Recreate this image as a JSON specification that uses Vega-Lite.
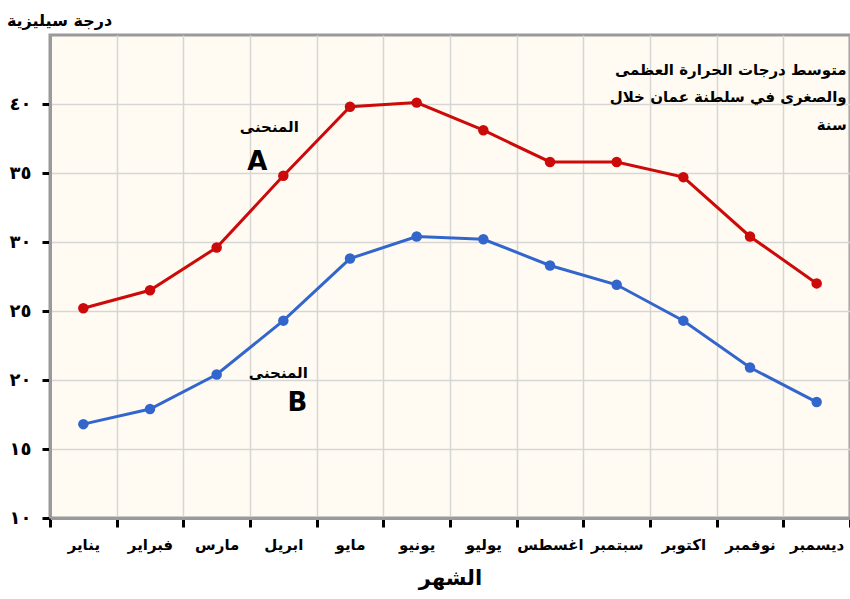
{
  "$schema": "https://vega.github.io/schema/vega-lite/v6.json",
  "width": 800,
  "height": 483,
  "autosize": {"type": "none"},
  "padding": {"left": 50, "top": 35, "right": 0, "bottom": 81},
  "background": "white",
  "config": {
    "font": "DejaVu Sans",
    "view": {"fill": "#FFFBF2", "stroke": "#9a9a9a", "strokeWidth": 3}
  },
  "datasets": {
    "temps": [
      {"month": "يناير", "series": "A", "temp": 25.2},
      {"month": "فبراير", "series": "A", "temp": 26.5},
      {"month": "مارس", "series": "A", "temp": 29.6},
      {"month": "ابريل", "series": "A", "temp": 34.8},
      {"month": "مايو", "series": "A", "temp": 39.8},
      {"month": "يونيو", "series": "A", "temp": 40.1},
      {"month": "يوليو", "series": "A", "temp": 38.1},
      {"month": "اغسطس", "series": "A", "temp": 35.8},
      {"month": "سبتمبر", "series": "A", "temp": 35.8},
      {"month": "اكتوبر", "series": "A", "temp": 34.7},
      {"month": "نوفمبر", "series": "A", "temp": 30.4},
      {"month": "ديسمبر", "series": "A", "temp": 27.0},
      {"month": "يناير", "series": "B", "temp": 16.8},
      {"month": "فبراير", "series": "B", "temp": 17.9},
      {"month": "مارس", "series": "B", "temp": 20.4},
      {"month": "ابريل", "series": "B", "temp": 24.3},
      {"month": "مايو", "series": "B", "temp": 28.8},
      {"month": "يونيو", "series": "B", "temp": 30.4},
      {"month": "يوليو", "series": "B", "temp": 30.2},
      {"month": "اغسطس", "series": "B", "temp": 28.3},
      {"month": "سبتمبر", "series": "B", "temp": 26.9},
      {"month": "اكتوبر", "series": "B", "temp": 24.3},
      {"month": "نوفمبر", "series": "B", "temp": 20.9},
      {"month": "ديسمبر", "series": "B", "temp": 18.4}
    ],
    "wordA": [{"month": "ابريل", "temp": 38.3, "label": "المنحنى"}],
    "wordB": [{"month": "ابريل", "temp": 20.5, "label": "المنحنى"}],
    "letterA": [{"month": "ابريل", "temp": 35.8, "label": "A"}],
    "letterB": [{"month": "ابريل", "temp": 18.3, "label": "B"}],
    "note": [
      {"month": "ديسمبر", "temp": 42.5, "label": "متوسط درجات الحرارة العظمى"},
      {"month": "ديسمبر", "temp": 40.5, "label": "والصغرى في سلطنة عمان خلال"},
      {"month": "ديسمبر", "temp": 38.5, "label": "سنة"}
    ]
  },
  "encoding": {
    "x": {
      "field": "month",
      "type": "nominal",
      "sort": ["يناير", "فبراير", "مارس", "ابريل", "مايو", "يونيو", "يوليو", "اغسطس", "سبتمبر", "اكتوبر", "نوفمبر", "ديسمبر"],
      "scale": {"type": "band", "paddingInner": 0, "paddingOuter": 0},
      "axis": {
        "title": "الشهر",
        "titleFontSize": 21,
        "titleFontWeight": "bold",
        "titleColor": "black",
        "titleY": 60,
        "titleBaseline": "middle",
        "labelAngle": 0,
        "labelFontSize": 15,
        "labelFontWeight": "bold",
        "labelColor": "black",
        "labelPadding": 10,
        "tickBand": "extent",
        "tickColor": "black",
        "tickWidth": 3,
        "tickSize": 9,
        "domainColor": "#9a9a9a",
        "domainWidth": 3,
        "grid": true,
        "gridColor": "#d6d6d6",
        "gridWidth": 1.5
      }
    },
    "y": {
      "field": "temp",
      "type": "quantitative",
      "scale": {"domain": [10, 45], "nice": false, "zero": false},
      "axis": {
        "values": [10, 15, 20, 25, 30, 35, 40],
        "labelExpr": "datum.value == 10 ? '١٠' : datum.value == 15 ? '١٥' : datum.value == 20 ? '٢٠' : datum.value == 25 ? '٢٥' : datum.value == 30 ? '٣٠' : datum.value == 35 ? '٣٥' : '٤٠'",
        "title": "درجة سيليزية",
        "titleAngle": 0,
        "titleX": 9,
        "titleY": -15,
        "titleAlign": "center",
        "titleBaseline": "middle",
        "titleFontSize": 16,
        "titleFontWeight": "bold",
        "titleColor": "black",
        "labelFontSize": 18,
        "labelFontWeight": "bold",
        "labelColor": "black",
        "labelPadding": 11,
        "tickColor": "black",
        "tickWidth": 3,
        "tickSize": 8,
        "domainColor": "#9a9a9a",
        "domainWidth": 3,
        "grid": true,
        "gridColor": "#d6d6d6",
        "gridWidth": 1.5
      }
    }
  },
  "layer": [
    {
      "data": {"name": "temps"},
      "mark": {"type": "line", "strokeWidth": 3},
      "encoding": {
        "color": {"field": "series", "type": "nominal", "scale": {"domain": ["A", "B"], "range": ["#cc0a0a", "#3366cc"]}, "legend": null}
      }
    },
    {
      "data": {"name": "temps"},
      "mark": {"type": "point", "filled": true, "opacity": 1, "size": 110},
      "encoding": {
        "color": {"field": "series", "type": "nominal", "scale": {"domain": ["A", "B"], "range": ["#cc0a0a", "#3366cc"]}, "legend": null}
      }
    },
    {
      "data": {"name": "wordA"},
      "mark": {"type": "text", "fontSize": 15, "fontWeight": "bold", "color": "black", "baseline": "middle", "align": "center", "dx": -14},
      "encoding": {"text": {"field": "label"}}
    },
    {
      "data": {"name": "wordB"},
      "mark": {"type": "text", "fontSize": 15, "fontWeight": "bold", "color": "black", "baseline": "middle", "align": "center", "dx": -5},
      "encoding": {"text": {"field": "label"}}
    },
    {
      "data": {"name": "letterA"},
      "mark": {"type": "text", "fontSize": 26, "fontWeight": "bold", "color": "black", "baseline": "middle", "align": "center", "dx": -26},
      "encoding": {"text": {"field": "label"}}
    },
    {
      "data": {"name": "letterB"},
      "mark": {"type": "text", "fontSize": 26, "fontWeight": "bold", "color": "black", "baseline": "middle", "align": "center", "dx": 14},
      "encoding": {"text": {"field": "label"}}
    },
    {
      "data": {"name": "note"},
      "mark": {"type": "text", "fontSize": 15, "fontWeight": "bold", "color": "black", "baseline": "middle", "align": "right", "dx": 30},
      "encoding": {"text": {"field": "label"}}
    }
  ]
}
